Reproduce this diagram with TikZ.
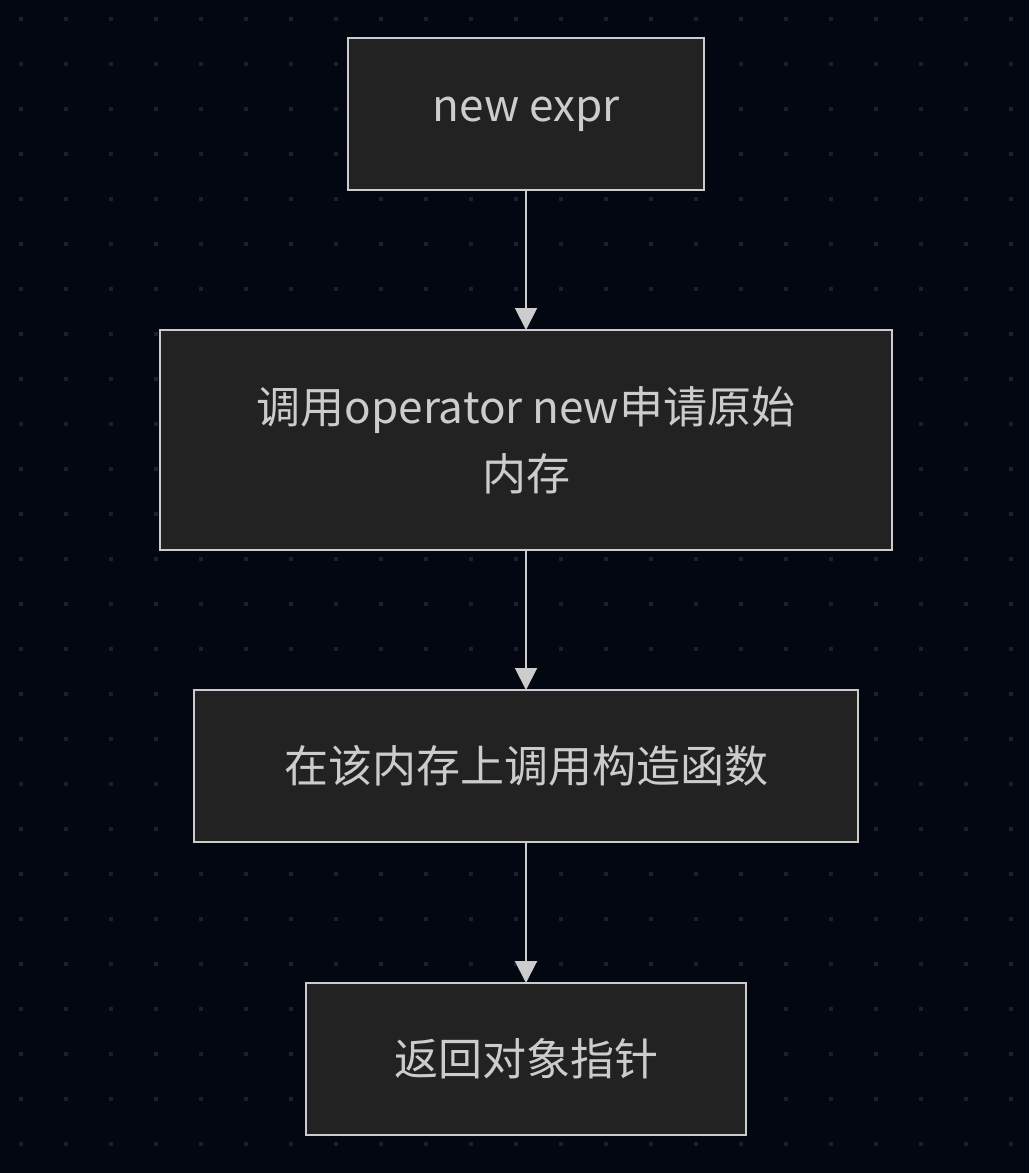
\documentclass[tikz,border=0pt]{standalone}
\usepackage{fontspec}
\setmainfont{Noto Sans CJK SC}
\usepackage{xcolor}
\usetikzlibrary{arrows.meta,positioning}

\definecolor{fondo}{HTML}{030712}
\definecolor{punto}{HTML}{1E1F2A}
\definecolor{relleno}{HTML}{222222}
\definecolor{borde}{HTML}{CCCCCC}

\begin{document}
\begin{tikzpicture}[x=0.5pt,y=-0.5pt,
  blk/.style={draw=borde,fill=relleno,line width=1pt,align=center,inner sep=0pt,
              outer sep=0pt,text=borde,font=\fontsize{22pt}{33.5pt}\selectfont},
  fl/.style={-{Triangle[length=11pt,width=11pt]},line width=1pt,borde}]

  % fondo con puntos
  \fill[fondo] (0,0) rectangle (1029,1173);
  \useasboundingbox (0,0) rectangle (1029,1173);
  \foreach \i in {0,...,22}
    \foreach \j in {0,...,25}
      \fill[punto] (19+45*\i,17+45*\j) rectangle +(4,4);

  \node[blk,minimum width=178pt,minimum height=76pt] (ne) at (526,114) {new expr};
  \node[blk,minimum width=366pt,minimum height=110pt,below=70pt of ne] (opn)
       {调用operator new申请原始\\内存};
  \node[blk,minimum width=332pt,minimum height=76pt,below=70pt of opn] (ctor)
       {在该内存上调用构造函数};
  \node[blk,minimum width=220pt,minimum height=76pt,below=70.5pt of ctor] (ret)
       {返回对象指针};

  \draw[fl] (ne)--(opn); \draw[fl] (opn)--(ctor); \draw[fl] (ctor)--(ret);
\end{tikzpicture}
\end{document}
